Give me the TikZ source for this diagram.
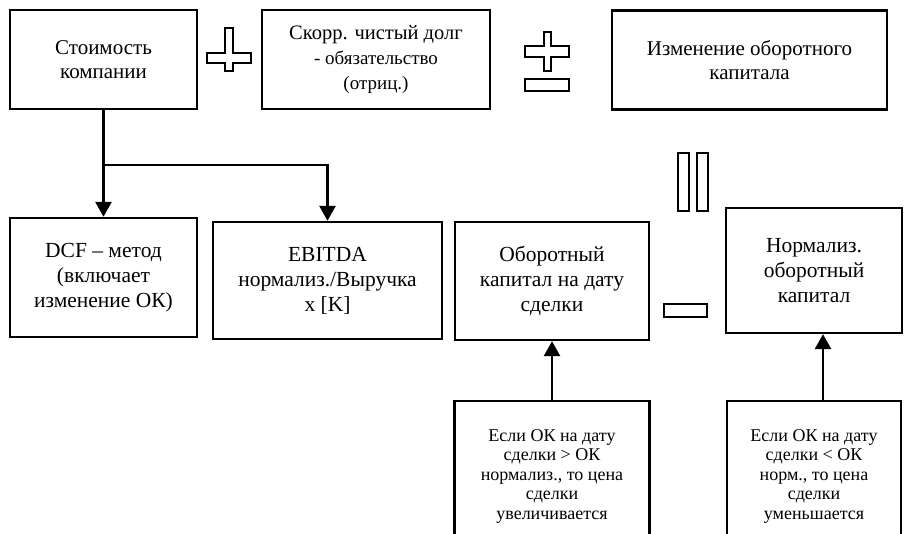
\documentclass[tikz,border=0pt]{standalone}
\usepackage{fontspec}
\setmainfont{Liberation Serif}
\usetikzlibrary{arrows.meta}

\begin{document}
\begin{tikzpicture}[x=1pt, y=-1pt,
  box/.style={draw=black, line width=2.4pt, align=center, inner sep=2pt,
    font=\fontsize{21.5}{25}\selectfont},
  topbox/.style={box, minimum height=99pt, font=\fontsize{21}{23.5}\selectfont},
  note/.style={box, anchor=north, minimum height=150pt,
    font=\fontsize{18}{19.5}\selectfont},
  arr/.style={line width=2.8pt, -{Triangle[width=16pt,length=15pt]}},
  sym/.style={draw=black, fill=white, line width=1.8pt}]
\useasboundingbox (0,0) rectangle (912,534);
\clip (0,0) rectangle (912,534);
% top row: value = net debt +/- change of working capital
\node[topbox, minimum width=187pt] (val) at (103.5,59.5) {Стоимость\\компании};
\node[topbox, minimum width=228pt, font=\fontsize{20.5}{25}\selectfont] (debt) at (376,59.5)
  {Скорр. чистый долг\\{\fontsize{19}{25}\selectfont - обязательство}\\{\fontsize{19}{25}\selectfont (отриц.)}};
\node[topbox, minimum width=275pt] (chg) at (749.5,60) {Изменение оборотного\\капитала};
% middle row
\node[box, minimum width=187pt, minimum height=119pt] (dcf) at (103.5,277.5)
  {DCF – метод\\(включает\\изменение ОК)};
\node[box, minimum width=229pt, minimum height=117pt] (ebit) at (327.5,280.5)
  {EBITDA\\нормализ./Выручка\\x [K]};
\node[box, minimum width=194pt, minimum height=118pt] (wcdeal) at (552,281)
  {Оборотный\\капитал на дату\\сделки};
\node[box, minimum width=176pt, minimum height=125pt] (wcnorm) at (814,270.5)
  {Нормализ.\\оборотный\\капитал};
% bottom notes (cut off by the page edge)
\node[note, minimum width=195pt] (noteup) at (552,400)
  {Если ОК на дату\\сделки > ОК\\нормализ., то цена\\сделки\\увеличивается};
\node[note, minimum width=174pt] (notedown) at (814,400)
  {Если ОК на дату\\сделки < ОК\\норм., то цена\\сделки\\уменьшается};
% connectors
\coordinate (split) at (103.5,165);
\draw[line width=2.8pt] (val) -- (split);
\draw[arr] (split) -- (dcf);
\draw[arr] (split) -| (ebit);
\draw[arr] (noteup.north) -- (wcdeal.south);
\draw[arr] ([xshift=9pt]notedown.north) -- ([xshift=9pt]notedown.north |- wcnorm.south);
% operator signs
\draw[sym] (225,28) -- (233,28) -- (233,53) -- (251,53) -- (251,63) -- (233,63)
  -- (233,71) -- (225,71) -- (225,63) -- (207,63) -- (207,53) -- (225,53) -- cycle;
\draw[sym] (544,32) -- (551,32) -- (551,46) -- (569,46) -- (569,57) -- (551,57)
  -- (551,71) -- (544,71) -- (544,57) -- (525,57) -- (525,46) -- (544,46) -- cycle;
\draw[sym] (525,79) rectangle (569,91);
\draw[sym] (664,304) rectangle (707,317);
\foreach \x in {678,697}
  \draw[sym] (\x,153) rectangle ++(11,58);
\end{tikzpicture}
\end{document}
